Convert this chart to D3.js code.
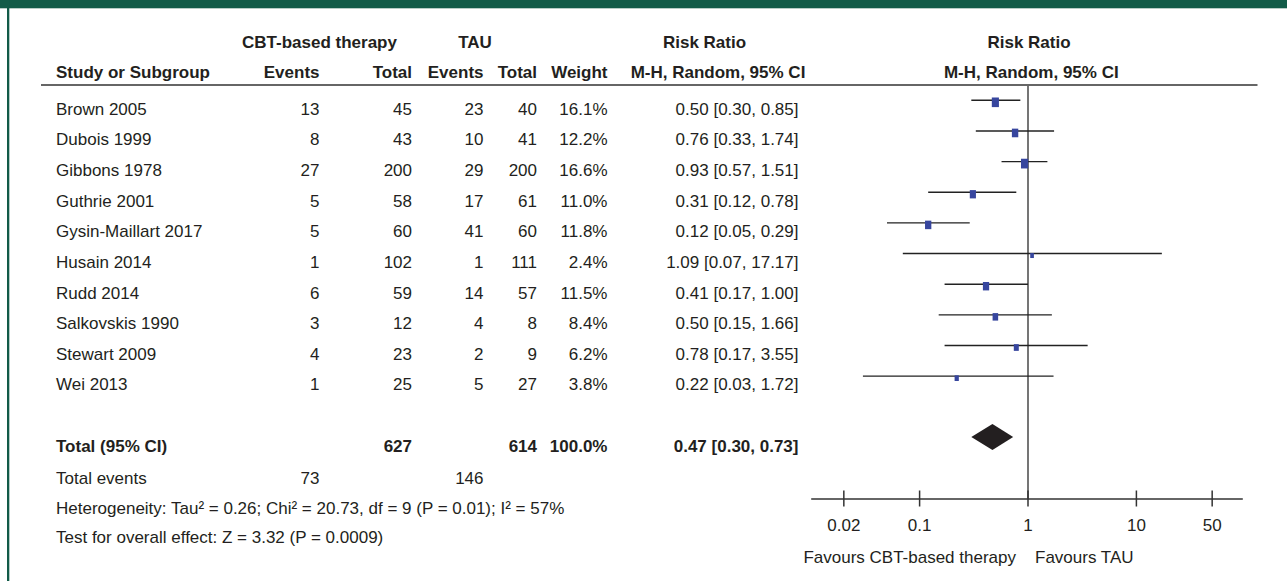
<!DOCTYPE html>
<html>
<head>
<meta charset="utf-8">
<script src="https://cdn.jsdelivr.net/npm/d3@7"></script>
<style>
  html, body { margin: 0; padding: 0; background: #fff; }
  svg { display: block; }
  text { font-family: "Liberation Sans", Arial, Helvetica, sans-serif; fill: #231f20; }
</style>
</head>
<body>
<script>
// ---- Data ----
const studies = ["Brown 2005", "Dubois 1999", "Gibbons 1978", "Guthrie 2001", "Gysin-Maillart 2017",
  "Husain 2014", "Rudd 2014", "Salkovskis 1990", "Stewart 2009", "Wei 2013"];
const cbtEvents = [13, 8, 27, 5, 5, 1, 6, 3, 4, 1];
const cbtTotal = [45, 43, 200, 58, 60, 102, 59, 12, 23, 25];
const tauEvents = [23, 10, 29, 17, 41, 1, 14, 4, 2, 5];
const tauTotal = [40, 41, 200, 61, 60, 111, 57, 8, 9, 27];
const weights = [16.1, 12.2, 16.6, 11.0, 11.8, 2.4, 11.5, 8.4, 6.2, 3.8];
const riskRatio = [0.50, 0.76, 0.93, 0.31, 0.12, 1.09, 0.41, 0.50, 0.78, 0.22];
const ciLower = [0.30, 0.33, 0.57, 0.12, 0.05, 0.07, 0.17, 0.15, 0.17, 0.03];
const ciUpper = [0.85, 1.74, 1.51, 0.78, 0.29, 17.17, 1.00, 1.66, 3.55, 1.72];
const pooled = [0.47, 0.30, 0.73]; // RR, lower, upper
const totals = { cbtTotal: 627, tauTotal: 614, weight: "100.0%", cbtEvents: 73, tauEvents: 146 };
const axisTicks = [0.02, 0.1, 1, 10, 50];
const axisDomain = [0.01, 100];
const heterogeneityText = "Heterogeneity: Tau\u00B2 = 0.26; Chi\u00B2 = 20.73, df = 9 (P = 0.01); I\u00B2 = 57%";
const overallText = "Test for overall effect: Z = 3.32 (P = 0.0009)";

// ---- Layout ----
const W = 1287, H = 581;
const svg = d3.select("body").append("svg").attr("width", W).attr("height", H);
svg.append("rect").attr("x", 0).attr("y", 0).attr("width", W).attr("height", H).attr("fill", "#fff");
svg.append("rect").attr("x", 0).attr("y", 0).attr("width", W).attr("height", 8.3).attr("fill", "#125b48");
svg.append("rect").attr("x", 7).attr("y", 0).attr("width", 2.3).attr("height", H).attr("fill", "#125b48");

const FS = 17;
const x = d3.scaleLog().domain(axisDomain).range([811.2, 1244.8]);
const rowY = d3.scaleLinear().domain([0, 1]).range([108.3, 108.3 + 30.65]); // text center
const sizeScale = d3.scaleSqrt().domain([0, 20]).range([0, 6.26]);

function txt(str, xx, cy, anchor, bold) {
  return svg.append("text").attr("x", xx).attr("y", cy + 6.3)
    .attr("text-anchor", anchor || "start")
    .attr("font-size", FS)
    .attr("font-weight", bold ? "bold" : "normal")
    .text(str);
}

// Column positions
const colLabel = 56, colCE = 319.5, colCT = 412, colTE = 483.5, colTT = 537, colW = 607.5, colRR = 798.5;

// Headers
txt("CBT-based therapy", 319.5, 41.7, "middle", true);
txt("TAU", 475, 41.7, "middle", true);
txt("Risk Ratio", 704.5, 41.7, "middle", true);
txt("Risk Ratio", 1029, 41.7, "middle", true);
txt("Study or Subgroup", colLabel, 71.7, "start", true);
txt("Events", colCE, 71.7, "end", true);
txt("Total", colCT, 71.7, "end", true);
txt("Events", colTE, 71.7, "end", true);
txt("Total", colTT, 71.7, "end", true);
txt("Weight", colW, 71.7, "end", true);
txt("M-H, Random, 95% CI", 718, 71.7, "middle", true);
txt("M-H, Random, 95% CI", 1031.3, 71.7, "middle", true);

svg.append("line").attr("x1", 41).attr("x2", 1257.5).attr("y1", 85).attr("y2", 85)
  .attr("stroke", "#333").attr("stroke-width", 1.6);

// Axis geometry
const axisY = 499;
// vertical line of no effect
svg.append("line").attr("x1", x(1)).attr("x2", x(1)).attr("y1", 85).attr("y2", axisY)
  .attr("stroke", "#666").attr("stroke-width", 1.8);

const f2 = d3.format(".2f");
// Study rows
studies.forEach((s, i) => {
  const cy = rowY(i);
  txt(s, colLabel, cy, "start");
  txt(cbtEvents[i], colCE, cy, "end");
  txt(cbtTotal[i], colCT, cy, "end");
  txt(tauEvents[i], colTE, cy, "end");
  txt(tauTotal[i], colTT, cy, "end");
  txt(weights[i].toFixed(1) + "%", colW, cy, "end");
  txt(`${f2(riskRatio[i])} [${f2(ciLower[i])}, ${f2(ciUpper[i])}]`, colRR, cy, "end");

  const my = cy - 8;
  svg.append("line").attr("x1", x(ciLower[i])).attr("x2", x(ciUpper[i]))
    .attr("y1", my).attr("y2", my).attr("stroke", "#222").attr("stroke-width", 1.4);
  const w = 1.5 + sizeScale(weights[i]);
  const h = w * 1.35;
  svg.append("rect").attr("x", x(riskRatio[i]) - w / 2).attr("y", my + 2 - h / 2)
    .attr("width", w).attr("height", h).attr("fill", "#37469e");
});

// Total row
const totY = 446;
txt("Total (95% CI)", colLabel, totY, "start", true);
txt(totals.cbtTotal, colCT, totY, "end", true);
txt(totals.tauTotal, colTT, totY, "end", true);
txt(totals.weight, colW, totY, "end", true);
txt(`${f2(pooled[0])} [${f2(pooled[1])}, ${f2(pooled[2])}]`, colRR, totY, "end", true);
const dy = totY - 9;
svg.append("path")
  .attr("d", `M${x(pooled[1])},${dy} L${x(pooled[0])},${dy - 13} L${x(pooled[2])},${dy} L${x(pooled[0])},${dy + 13} Z`)
  .attr("fill", "#231f20");

txt("Total events", colLabel, 478, "start");
txt(totals.cbtEvents, colCE, 478, "end");
txt(totals.tauEvents, colTE, 478, "end");
txt(heterogeneityText, colLabel, 508, "start");
txt(overallText, colLabel, 537, "start");

// Axis
svg.append("line").attr("x1", x(axisDomain[0])).attr("x2", x(axisDomain[1]) - 2)
  .attr("y1", axisY).attr("y2", axisY).attr("stroke", "#333").attr("stroke-width", 1.5);
axisTicks.forEach(t => {
  svg.append("line").attr("x1", x(t)).attr("x2", x(t)).attr("y1", axisY - 8.5).attr("y2", axisY + 7.5)
    .attr("stroke", "#333").attr("stroke-width", 1.5);
  txt(String(t), x(t), 525, "middle");
});
txt("Favours CBT-based therapy", x(1) - 12, 557, "end");
txt("Favours TAU", x(1) + 7, 557, "start");
</script>
</body>
</html>
